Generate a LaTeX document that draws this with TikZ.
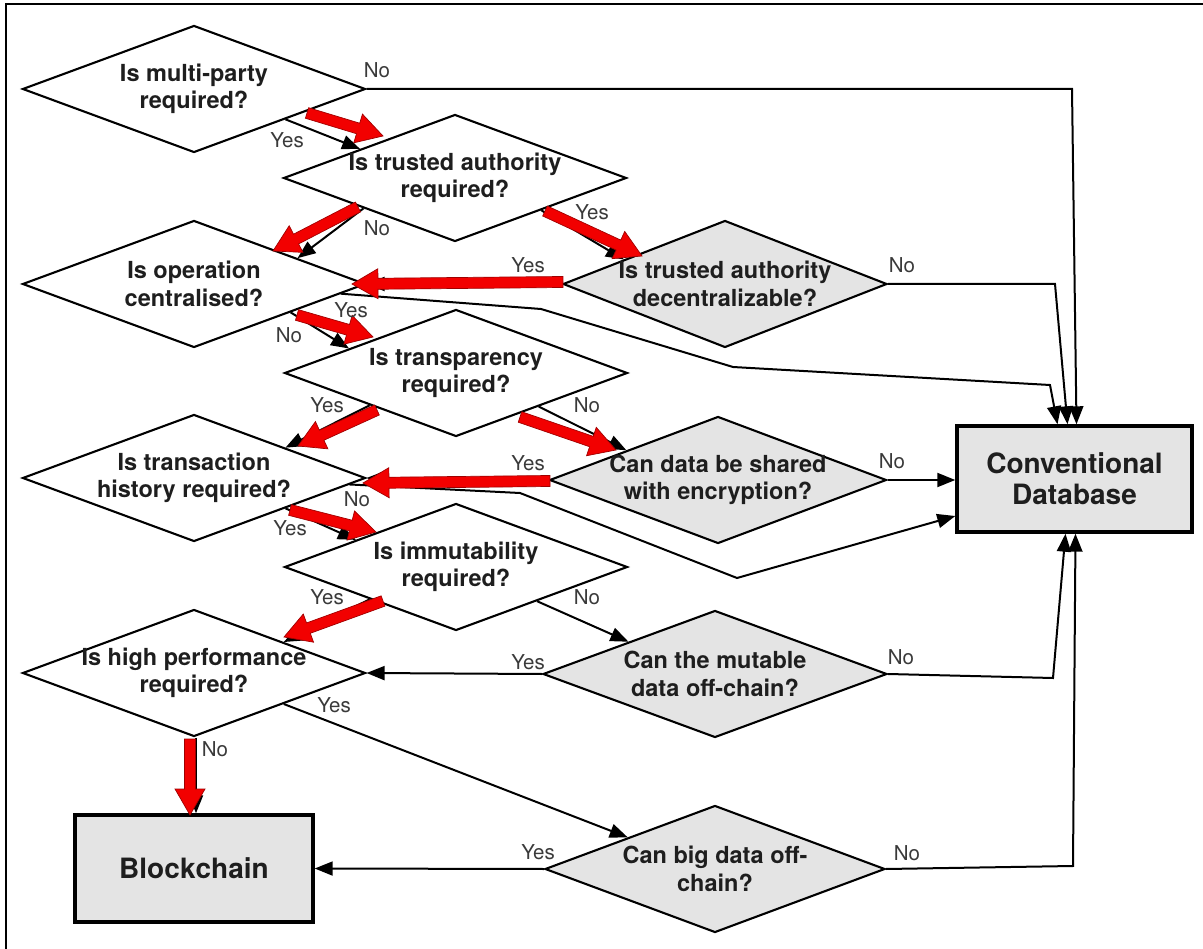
\documentclass[tikz,border=0pt]{standalone}
\usepackage{fontspec}
\setmainfont{TeX Gyre Heros}
\usetikzlibrary{shapes.geometric,arrows.meta,calc}

\definecolor{boxgray}{HTML}{E4E4E4}
\definecolor{txt}{HTML}{1E1E1E}
\definecolor{lbl}{HTML}{3A3A3A}
\definecolor{hot}{HTML}{F20000}
\definecolor{hotedge}{HTML}{A00000}

% fat red highlight arrow from #1 to #2 (coordinates in parentheses)
\newcommand\redarrow[2]{%
  \coordinate (rb) at ($#2!26pt!#1$);
  \path[hotarrow] ($#1!5.5pt!90:#2$) -- ($(rb)!5.5pt!90:#2$) -- ($(rb)!15pt!90:#2$)
    -- #2 -- ($(rb)!15pt!-90:#2$) -- ($(rb)!5.5pt!-90:#2$) -- ($#1!5.5pt!-90:#2$) -- cycle;}

\tikzset{
  question/.style={diamond, draw=black, line width=2.1pt, fill=white,
    minimum width=343pt, minimum height=127pt, inner sep=0pt},
  graydia/.style={question, fill=boxgray, minimum width=#1},
  graydia/.default=340pt,
  qtext/.style={align=center, text=txt, inner sep=0pt,
    font=\bfseries\fontsize{23.5}{27.5}\selectfont},
  endbox/.style={rectangle, draw=black, line width=3.4pt, fill=boxgray,
    text=txt, align=center, font=\bfseries\fontsize{28}{31}\selectfont},
  conn/.style={draw=black, line width=2pt,
    -{Triangle[length=18pt,width=14pt]}},
  ans/.style={text=lbl, inner sep=0pt, font=\fontsize{20.5}{23}\selectfont},
  hotarrow/.style={fill=hot, draw=hotedge, line width=0.7pt, line join=miter},
}

\begin{document}
\begin{tikzpicture}[x=1pt, y=-1pt]
\useasboundingbox (0,0) rectangle (1203,949);

% frame
\draw[line width=1.6pt] (6,949) -- (6,4) -- (1203,4);

% decision diamonds, left column
\node[question, label={[qtext]center:Is multi-party\\required?}] (d1) at (194,89) {};
\node[question, label={[qtext]center:Is trusted authority\\required?}] (d2) at (455,178) {};
\node[question, label={[qtext]center:Is operation\\centralised?}] (d3) at (194,284) {};
\node[question, label={[qtext]center:Is transparency\\required?}] (d4) at (456,373) {};
\node[question, label={[qtext]center:Is transaction\\history required?}] (d5) at (194,478) {};
\node[question, label={[qtext]center:Is immutability\\required?}] (d6) at (456,567) {};
\node[question, label={[qtext]center:Is high performance\\required?}] (d7) at (194,673) {};

% grey diamonds
\node[graydia=324pt, label={[qtext]center:Is trusted authority\\decentralizable?}] (g1) at (725,284) {};
\node[graydia=337pt, label={[qtext]center:Can data be shared\\with encryption?}] (g2) at (718,480) {};
\node[graydia=344pt, label={[qtext]center:Can the mutable\\data off-chain?}] (g3) at (715,674) {};
\node[graydia=340pt, label={[qtext]center:Can big data off-\\chain?}] (g4) at (715,869) {};

% outcomes
\node[endbox, minimum width=235pt, minimum height=106pt] (conv) at (1074.5,479) {Conventional\\Database};
\node[endbox, minimum width=238pt, minimum height=107pt] (bc) at (194,868.5) {Blockchain};

% connectors into Conventional Database
\draw[conn] (d1.east) -- (1072,89) -- ([xshift=2pt]conv.north);
\draw[conn] (g1.east) -- (1055,284) -- ([xshift=-7pt]conv.north);
\draw[conn] ($(d3.east)!0.15!(d3.south)$) -- (541,309) -- (733,367) -- (1050,385) -- ([xshift=-17pt]conv.north);
\draw[conn] (g2.east) -- (g2.east -| conv.west);
\draw[conn] ($(d5.east)!0.1!(d5.south)$) -- (520,493) -- (737,578) -- ($(conv.west)+(0,37)$);
\draw[conn] (g3.east) -- (1053,678) -- ([xshift=-9pt]conv.south);
\draw[conn] (g4.east) -- (1073,866) -- ([xshift=1pt]conv.south);

% connectors between questions
\draw[conn] ($(d1.east)!0.47!(d1.south)$) -- ($(d2.west)!0.45!(d2.north)$);
\draw[conn] ($(d2.west)!0.47!(d2.south)$) -- ($(d3.north)!0.6!(d3.east)$);
\draw[conn] ($(d2.east)!0.5!(d2.south)$) -- ($(g1.west)!0.38!(g1.north)$);
\draw[conn] (g1.west) -- (d3.east);
\draw[conn] ($(d3.east)!0.44!(d3.south)$) -- ($(d4.west)!0.38!(d4.north)$);
\draw[conn] ($(d4.west)!0.5!(d4.south)$) -- ($(d5.north)!0.53!(d5.east)$);
\draw[conn] ($(d4.east)!0.52!(d4.south)$) -- ($(g2.west)!0.46!(g2.north)$);
\draw[conn] (g2.west) -- (d5.east);
\draw[conn] ($(d5.east)!0.47!(d5.south)$) -- ($(d6.west)!0.42!(d6.north)$);
\draw[conn] ($(d6.west)!0.5!(d6.south)$) -- ($(d7.north)!0.52!(d7.east)$);
\draw[conn] ($(d6.east)!0.53!(d6.south)$) -- ($(g3.west)!0.5!(g3.north)$);
\draw[conn] (g3.west) -- (d7.east);
\draw[conn] ($(d7.east)!0.48!(d7.south)$) -- ($(g4.west)!0.49!(g4.north)$);
\draw[conn] ([xshift=2pt]d7.south) -- ([xshift=2pt]bc.north);
\draw[conn] (g4.west) -- (bc.east);

% highlighted path
\redarrow{(307,113)}{(383,136)}
\redarrow{(358,207)}{(273,251)}
\redarrow{(545,211)}{(642,256)}
\redarrow{(563,282)}{(352,284)}
\redarrow{(297,315)}{(373,337)}
\redarrow{(377,410)}{(298,446)}
\redarrow{(520,417)}{(616,450)}
\redarrow{(550,481)}{(363,483)}
\redarrow{(290,510)}{(376,532)}
\redarrow{(383,601)}{(284,637)}
\redarrow{(190,739)}{(190,815)}

% answer labels
\node[ans] (a1) at (377,70) {No};
\node[ans] (a2) at (287,140) {Yes};
\node[ans] (a3) at (592,212) {Yes};
\node[ans] (a4) at (377,228) {No};
\node[ans] (a5) at (528,265) {Yes};
\node[ans] (a6) at (902,265) {No};
\node[ans] (a7) at (351,310) {Yes};
\node[ans] (a8) at (289,335) {No};
\node[ans] (a9) at (327,405) {Yes};
\node[ans] (a10) at (587,405) {No};
\node[ans] (a11) at (528,463) {Yes};
\node[ans] (a12) at (892,461) {No};
\node[ans] (a13) at (357,499) {No};
\node[ans] (a14) at (290,528) {Yes};
\node[ans] (a15) at (327,597) {Yes};
\node[ans] (a16) at (587,597) {No};
\node[ans] (a17) at (528,662) {Yes};
\node[ans] (a18) at (901,657) {No};
\node[ans] (a19) at (334,705) {Yes};
\node[ans] (a20) at (215,749) {No};
\node[ans] (a21) at (538,852) {Yes};
\node[ans] (a22) at (907,853) {No};
\end{tikzpicture}
\end{document}
